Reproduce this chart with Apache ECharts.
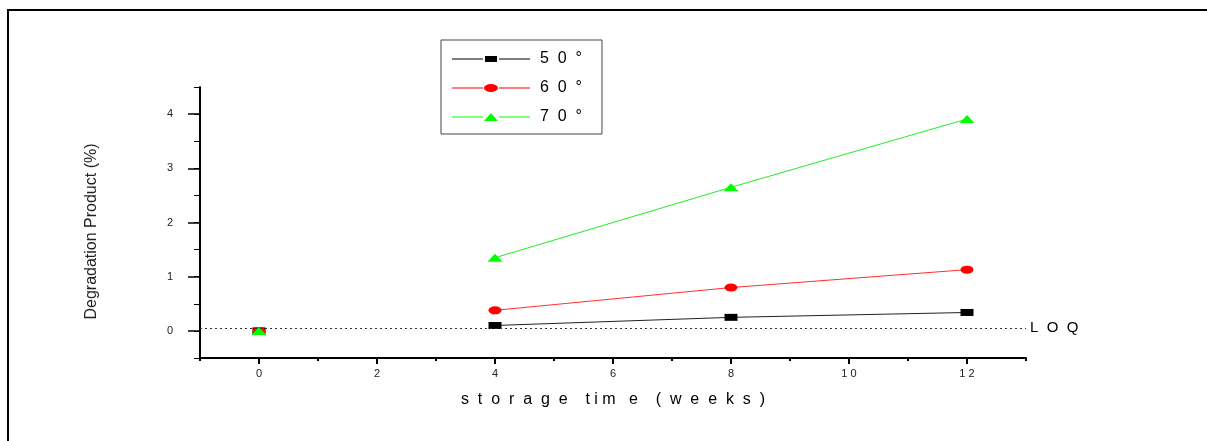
<!DOCTYPE html>
<html>
<head>
<meta charset="utf-8">
<script src="https://cdn.jsdelivr.net/npm/echarts@6/dist/echarts.min.js"></script>
<style>
  html, body { margin: 0; padding: 0; background: #fff; }
  #chart { width: 1207px; height: 441px; }
</style>
</head>
<body>
<div id="chart"></div>
<script>
// storage time in weeks
var weeks = [0, 4, 8, 12];
// degradation product (%) per storage temperature
var deg50 = [0, 0.1, 0.25, 0.34];
var deg60 = [0, 0.38, 0.8, 1.13];
var deg70 = [0, 1.35, 2.65, 3.91];
var seriesNames = ['5  0  °', '6  0  °', '7  0  °'];
// limit of quantitation
var loqLevel = 0.05;
var yTickLabels = [0, 1, 2, 3, 4];
var xTickLabels = [0, 2, 4, 6, 8, 10, 12];

var font = 'Liberation Sans, Arial, sans-serif';
var ellipsePath = 'path://M0 5a6.5 4 0 1 0 13 0a6.5 4 0 1 0 -13 0z';
var plotBox = { left: 200, right: 181, top: 87, bottom: 83, containLabel: false };

// t=0 point is not joined to the rest of the line
function toPoints(vals) {
  var pts = [];
  weeks.forEach(function (w, i) {
    pts.push([w, vals[i]]);
    if (i === 0) pts.push([w + 2, '-']);
  });
  return pts;
}

var chart = echarts.init(document.getElementById('chart'));

var option = {
  animation: false,
  backgroundColor: '#fff',
  textStyle: { fontFamily: font },
  graphic: [
    { type: 'rect', shape: { x: 7, y: 9, width: 2, height: 432 }, style: { fill: '#000' } },
    { type: 'rect', shape: { x: 7, y: 9, width: 1200, height: 2 }, style: { fill: '#000' } }
  ],
  // second grid only carries the long (major) ticks
  grid: [plotBox, Object.assign({}, plotBox)],
  legend: {
    orient: 'vertical',
    left: 441,
    top: 40,
    padding: [11, 20, 9, 11],
    itemWidth: 78,
    itemHeight: 8,
    itemGap: 13,
    borderColor: '#444',
    borderWidth: 1,
    textStyle: { color: '#000', fontSize: 16, fontFamily: font, padding: [0, 0, 0, 5] },
    data: [
      { name: seriesNames[0], icon: 'path://M0 3.5h31v1h-31z M47 3.5h31v1h-31z M33 1h12v6h-12z' },
      { name: seriesNames[1], icon: 'path://M0 3.5h31v1h-31z M47 3.5h31v1h-31z M32 4a7 4 0 1 0 14 0a7 4 0 1 0 -14 0z' },
      { name: seriesNames[2], icon: 'path://M0 3.5h31v1h-31z M47 3.5h31v1h-31z M32 8L39 0L46 8z' }
    ]
  },
  xAxis: [
    {
      gridIndex: 0, type: 'value', min: -1, max: 13, interval: 1,
      name: 's  t  o  r  a  g  e    t i m   e    (  w  e  e  k  s  )',
      nameLocation: 'middle', nameGap: 34,
      nameTextStyle: { fontSize: 16, color: '#000', fontFamily: font },
      axisLine: { onZero: false, lineStyle: { color: '#000', width: 2 } },
      axisTick: { length: 3, lineStyle: { color: '#000', width: 2 } },
      axisLabel: {
        customValues: xTickLabels, margin: 10, fontSize: 11, color: '#222',
        formatter: function (v) { return String(v).split('').join(' '); }
      },
      splitLine: { show: false }
    },
    {
      gridIndex: 1, type: 'value', min: -1, max: 13, interval: 1,
      axisLine: { show: false, onZero: false },
      axisTick: { show: true, customValues: xTickLabels, length: 6, lineStyle: { color: '#000', width: 2 } },
      axisLabel: { show: false },
      splitLine: { show: false }
    }
  ],
  yAxis: [
    {
      gridIndex: 0, type: 'value', min: -0.5, max: 4.5, interval: 0.5,
      name: 'Degradation Product (%)',
      nameLocation: 'middle', nameGap: 100,
      nameTextStyle: { fontSize: 16, color: '#222', fontFamily: font, padding: [0, 18, 0, 0] },
      axisLine: { onZero: false, lineStyle: { color: '#000', width: 2 } },
      axisTick: { length: 6, lineStyle: { color: '#000', width: 1 } },
      axisLabel: { customValues: yTickLabels, margin: 27, fontSize: 11, color: '#222' },
      splitLine: { show: false }
    },
    {
      gridIndex: 1, type: 'value', min: -0.5, max: 4.5, interval: 0.5,
      axisLine: { show: false, onZero: false },
      axisTick: { show: true, customValues: yTickLabels, length: 12, lineStyle: { color: '#000', width: 1.5 } },
      axisLabel: { show: false },
      splitLine: { show: false }
    }
  ],
  series: [
    {
      name: seriesNames[0], type: 'line', data: toPoints(deg50),
      symbol: 'rect', symbolSize: [13, 7],
      color: '#000',
      lineStyle: { color: '#222', width: 1 },
      itemStyle: { color: '#000' },
      markLine: {
        silent: true, symbol: 'none',
        lineStyle: { color: '#333', type: [2, 3], width: 1 },
        label: { position: 'end', formatter: 'L  O  Q', color: '#000', fontSize: 15, distance: 4, fontFamily: font },
        data: [{ yAxis: loqLevel }]
      }
    },
    {
      name: seriesNames[1], type: 'line', data: toPoints(deg60),
      symbol: ellipsePath, symbolSize: [13, 8],
      color: '#ff0000',
      lineStyle: { color: '#ff3030', width: 1 },
      itemStyle: { color: '#ff0000' }
    },
    {
      name: seriesNames[2], type: 'line', data: toPoints(deg70),
      symbol: 'triangle', symbolSize: [15, 8],
      color: '#00ff00',
      lineStyle: { color: '#22ee22', width: 1 },
      itemStyle: { color: '#00ff00' }
    }
  ]
};

chart.setOption(option);
</script>
</body>
</html>
